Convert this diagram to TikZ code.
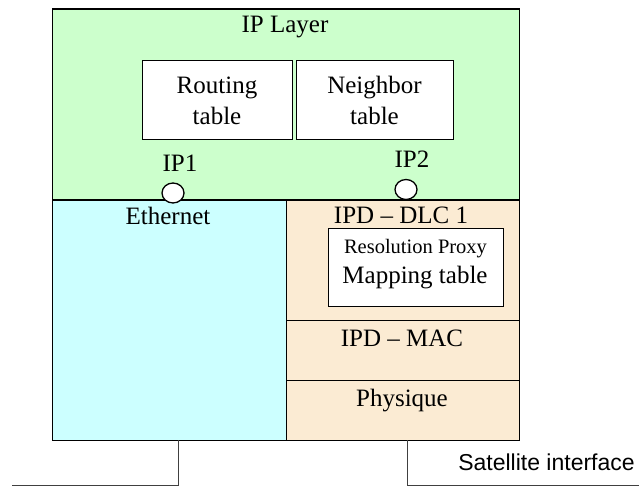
\documentclass[tikz,border=0pt]{standalone}
\usepackage{fontspec}
\usetikzlibrary{shapes.geometric}
\setmainfont{Liberation Serif}
\newfontfamily\arialfont{Liberation Sans}
\definecolor{ipgreen}{HTML}{CCFFCC}
\definecolor{ethcyan}{HTML}{CCFFFF}
\definecolor{beige}{HTML}{FBEBD3}
\begin{document}
\begin{tikzpicture}[x=1pt,y=-1pt,
  layer/.style={draw=black, line width=1.3pt, inner sep=0pt, anchor=north west},
  tbox/.style={draw=black, line width=1.3pt, fill=white, inner sep=0pt, anchor=north west},
  lbl/.style={anchor=base, inner sep=0pt, font=\fontsize{25}{31}\selectfont},
  small/.style={anchor=base, inner sep=0pt, font=\fontsize{20.5}{24}\selectfont},
  port/.style={draw=black, line width=1.3pt, fill=white, ellipse, inner sep=0pt, minimum width=22pt, minimum height=20pt},
  wire/.style={draw=black!75, line width=1pt}
]
\useasboundingbox (0,0) rectangle (639,486);
% layers
\node[layer, fill=ipgreen, minimum width=467pt, minimum height=191pt] (ip) at (52,8.5) {};
\node[layer, fill=ethcyan, minimum width=234pt, minimum height=240.5pt] (eth) at (52,199.5) {};
\node[layer, fill=beige, minimum width=233pt, minimum height=120.5pt] (dlc) at (286,199.5) {};
\node[layer, fill=beige, minimum width=233pt, minimum height=60pt] (mac) at (286,320) {};
\node[layer, fill=beige, minimum width=233pt, minimum height=60pt] (phy) at (286,380) {};
% tables
\node[tbox, minimum width=150pt, minimum height=79pt] (rt) at (142,60) {};
\node[tbox, minimum width=157pt, minimum height=79pt] (nt) at (296,60) {};
\node[tbox, minimum width=175pt, minimum height=78pt] (rp) at (328,228) {};
% texts
\node[lbl] (tip) at (285,33) {IP Layer};
\node[lbl] (trt1) at (217,94) {Routing};
\node[lbl] (trt2) at (217,125) {table};
\node[lbl] (tnt1) at (374.5,94) {Neighbor};
\node[lbl] (tnt2) at (374.5,125) {table};
\node[lbl] (tip1) at (180,172) {IP1};
\node[lbl] (tip2) at (412,168) {IP2};
\node[lbl] (teth) at (168,225) {Ethernet};
\node[lbl] (tdlc) at (401,224) {IPD -- DLC 1};
\node[small] (trp1) at (415.5,253) {Resolution Proxy};
\node[lbl] (trp2) at (415,283) {Mapping table};
\node[lbl] (tmac) at (402,346) {IPD -- MAC};
\node[lbl] (tphy) at (402,406) {Physique};
\node[anchor=base, inner sep=0pt, font=\arialfont\fontsize{23}{26}\selectfont] (tsat) at (546.5,470) {Satellite interface};
% ports
\node[port] (p1) at (173,193) {};
\node[port] (p2) at (406,189.5) {};
% wires
\coordinate (e1) at (178,440);
\coordinate (e2) at (178,485);
\coordinate (e3) at (12,485);
\coordinate (s1) at (407,440);
\coordinate (s2) at (407,485);
\coordinate (s3) at (639,485);
\draw[wire] (e1) -- (e2) -- (e3);
\draw[wire] (s1) -- (s2) -- (s3);
\end{tikzpicture}
\end{document}
